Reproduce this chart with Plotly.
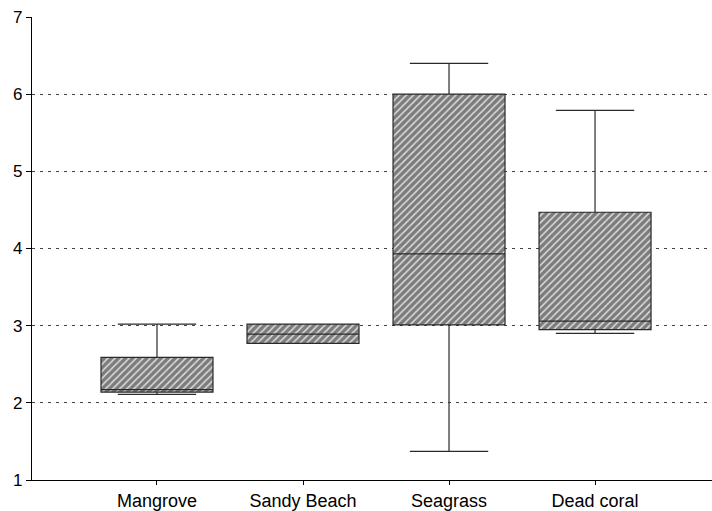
import plotly.graph_objects as go

# Habitat categories and five-number summaries
habitats = ["Mangrove", "Sandy Beach", "Seagrass", "Dead coral"]
lower_whisker = [2.11, 2.77, 1.37, 2.90]
q1 = [2.14, 2.77, 3.01, 2.95]
median = [2.17, 2.89, 3.93, 3.06]
q3 = [2.59, 3.02, 6.00, 4.47]
upper_whisker = [3.02, 3.02, 6.40, 5.79]

y_ticks = [1, 2, 3, 4, 5, 6, 7]

BOX_W = 0.767
FONT = "Liberation Sans, Arial, sans-serif"

fig = go.Figure()

# Hatched box bodies (interquartile range)
fig.add_trace(go.Bar(
    x=habitats,
    y=[b - a for a, b in zip(q1, q3)],
    base=q1,
    width=BOX_W,
    marker=dict(
        color="#7c7c7c",
        line=dict(width=0),
        pattern=dict(shape="/", bgcolor="#7c7c7c", fgcolor="#dcdcdc",
                     size=5, solidity=0.3, fillmode="replace"),
    ),
    hoverinfo="skip",
    showlegend=False,
))

# Outlines, medians and whiskers
fig.add_trace(go.Box(
    x=habitats,
    q1=q1,
    median=median,
    q3=q3,
    lowerfence=lower_whisker,
    upperfence=upper_whisker,
    width=BOX_W,
    whiskerwidth=0.7,
    fillcolor="rgba(0,0,0,0)",
    line=dict(color="#2a2a2a", width=1.2),
    boxpoints=False,
    hoverinfo="skip",
    showlegend=False,
))

fig.update_layout(
    width=712,
    height=511,
    margin=dict(l=32, r=0, t=17, b=23),
    paper_bgcolor="white",
    plot_bgcolor="white",
    font=dict(family=FONT, color="black"),
    bargap=0,
)

fig.update_xaxes(
    type="category",
    range=[-0.856, 3.801],
    showgrid=False,
    showline=True,
    linecolor="black",
    linewidth=1.3,
    ticks="outside",
    ticklen=4,
    tickcolor="black",
    tickfont=dict(size=18, family=FONT, color="black"),
    zeroline=False,
)

fig.update_yaxes(
    range=[1, 7],
    tickvals=y_ticks,
    ticktext=[str(v) for v in y_ticks],
    showgrid=True,
    gridcolor="#444444",
    gridwidth=1,
    griddash="3px,5px",
    showline=True,
    linecolor="black",
    linewidth=1.3,
    ticks="outside",
    ticklen=5,
    tickcolor="black",
    tickfont=dict(size=17, family=FONT, color="black"),
    zeroline=False,
)

fig.write_html("out.html")
